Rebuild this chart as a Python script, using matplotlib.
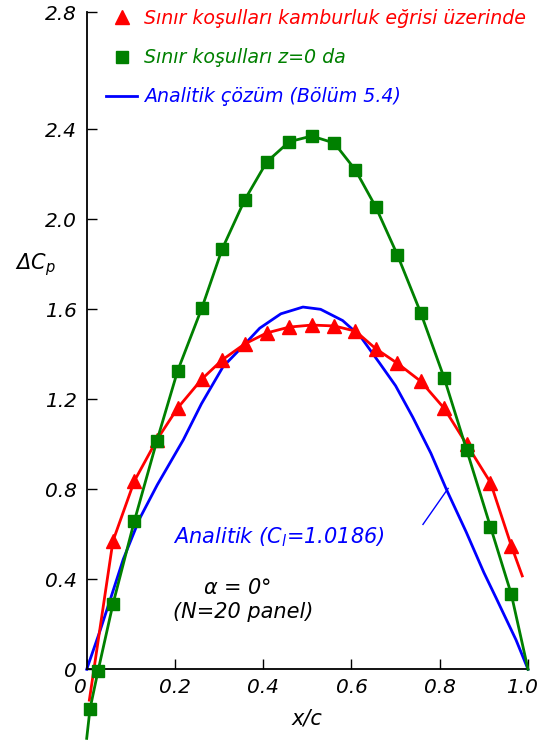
import matplotlib
matplotlib.use("Agg")
import matplotlib.pyplot as plt
from matplotlib.lines import Line2D

plt.rcParams["font.family"] = ["DejaVu Sans"]
plt.rcParams["font.style"] = "italic"
plt.rcParams["mathtext.fontset"] = "custom"
plt.rcParams["mathtext.rm"] = "DejaVu Sans:italic"
plt.rcParams["mathtext.it"] = "DejaVu Sans:italic"

# panel control points (x/c)
x_ctrl = [0.0075, 0.0256, 0.0595, 0.108, 0.159, 0.206, 0.261, 0.307, 0.358, 0.408,
          0.459, 0.510, 0.561, 0.609, 0.655, 0.704, 0.757, 0.810, 0.861, 0.915, 0.962]

# boundary conditions at z=0
green_y = [-0.176, -0.008, 0.290, 0.659, 1.015, 1.326, 1.606, 1.868, 2.086, 2.255,
           2.345, 2.370, 2.339, 2.219, 2.055, 1.842, 1.584, 1.295, 0.975, 0.633, 0.335]
green_ends_x = [0.0, 1.0]
green_ends_y = [-0.307, 0.0]

# boundary conditions on camber line (starts at third control point)
red_x = x_ctrl[2:]
red_y = [0.570, 0.837, 1.020, 1.161, 1.290, 1.375, 1.446, 1.495, 1.521, 1.530,
         1.526, 1.503, 1.425, 1.360, 1.280, 1.160, 1.000, 0.830, 0.550]
red_ends_x = [0.006, 0.987]
red_ends_y = [-0.137, 0.415]

# analytic solution
blue_x = [0.0, 0.03, 0.055, 0.083, 0.12, 0.16, 0.219, 0.26, 0.309, 0.351, 0.392, 0.44,
          0.49, 0.53, 0.58, 0.62, 0.664, 0.70, 0.739, 0.78, 0.815, 0.86, 0.90, 0.928,
          0.973, 1.0]
blue_y = [0.0, 0.17, 0.32, 0.49, 0.67, 0.82, 1.02, 1.18, 1.345, 1.43, 1.516, 1.58,
          1.61, 1.60, 1.55, 1.48, 1.36, 1.26, 1.12, 0.96, 0.80, 0.61, 0.43, 0.316,
          0.13, 0.0]

x_ticks = [0.0, 0.2, 0.4, 0.6, 0.8, 1.0]
x_tick_labels = ["0", "0.2", "0.4", "0.6", "0.8", "1.0"]
y_top = 2.92
y_ticks = [0.0, 0.4, 0.8, 1.2, 1.6, 2.0, 2.4, y_top]
y_tick_labels = ["0", "0.4", "0.8", "1.2", "1.6", "2.0", "2.4", "2.8"]

RED = "#ff0000"
GREEN = "#008000"
BLUE = "#0000ff"

W, H = 542, 744
fig = plt.figure(figsize=(W / 100, H / 100), dpi=100)
ax = fig.add_axes([86.7 / W, (H - 741.3) / H, 441.3 / W, 729.0 / H])
ax.set_xlim(0, 1.0)
ax.set_ylim(-0.32, y_top)

ax.plot(blue_x, blue_y, color=BLUE, lw=2.0, clip_on=False, zorder=2)
ax.plot([0.762, 0.819], [0.644, 0.804], color=BLUE, lw=1.0, zorder=2)

rx = [red_ends_x[0]] + red_x + [red_ends_x[1]]
ry = [red_ends_y[0]] + red_y + [red_ends_y[1]]
ax.plot(rx, ry, color=RED, lw=2.0, marker="^", markersize=10,
        markevery=list(range(1, len(rx) - 1)), clip_on=False, zorder=3)

gx = [green_ends_x[0]] + x_ctrl + [green_ends_x[1]]
gy = [green_ends_y[0]] + green_y + [green_ends_y[1]]
ax.plot(gx, gy, color=GREEN, lw=2.0, marker="s", markersize=9,
        markevery=list(range(1, len(gx) - 1)), clip_on=False, zorder=4)

for side in ["top", "right"]:
    ax.spines[side].set_visible(False)
ax.spines["bottom"].set_position(("data", 0))
ax.spines["left"].set_bounds(0, y_top)
ax.spines["bottom"].set_bounds(0, 1.0)
ax.spines["left"].set_linewidth(1.3)
ax.spines["bottom"].set_linewidth(1.3)

ax.set_xticks(x_ticks)
ax.set_xticklabels(x_tick_labels[:-1] + [""])
ax.set_yticks(y_ticks)
ax.set_yticklabels(y_tick_labels)
ax.tick_params(axis="both", direction="in", length=7, width=1.0, labelsize=14.5)
ax.tick_params(axis="x", pad=6)
ax.tick_params(axis="y", pad=7)
ax.get_xticklabels()[0].set_ha("right")
# last x label sits a little left of its tick, inside the picture
ax.annotate(x_tick_labels[-1], xy=(x_ticks[-1], 0), xytext=(-4.5, -6),
            textcoords="offset points", ha="center", va="top", fontsize=14.5)

ax.text(-0.07, 1.80, r"$\Delta C_p$", transform=ax.get_yaxis_transform(), ha="right",
        va="center", fontsize=15)
ax.text(0.5, -0.22, "x/c", ha="center", va="center", fontsize=15)
ax.text(0.196, 0.589, r"Analitik ($C_l$=1.0186)", color=BLUE, ha="left",
        va="center", fontsize=15)
ax.text(0.34, 0.36, r"$\alpha$ = 0°", ha="center", va="center", fontsize=15)
ax.text(0.354, 0.256, "(N=20 panel)", ha="center", va="center", fontsize=15)

handles = [
    Line2D([], [], color=RED, marker="^", markersize=10, linestyle="none"),
    Line2D([], [], color=GREEN, marker="s", markersize=9, linestyle="none"),
    Line2D([], [], color=BLUE, lw=2.0),
]
labels = ["Sınır koşulları kamburluk eğrisi üzerinde", "Sınır koşulları z=0 da",
          "Analitik çözüm (Bölüm 5.4)"]
leg = fig.legend(handles, labels, loc="upper left", bbox_to_anchor=(106 / W, 1 - 9 / H),
                 frameon=False, fontsize=13.7, borderpad=0, borderaxespad=0,
                 handlelength=1.65, handletextpad=0.35, labelspacing=1.06)
for text, color in zip(leg.get_texts(), [RED, GREEN, BLUE]):
    text.set_color(color)

fig.savefig("out.png", dpi=100)
